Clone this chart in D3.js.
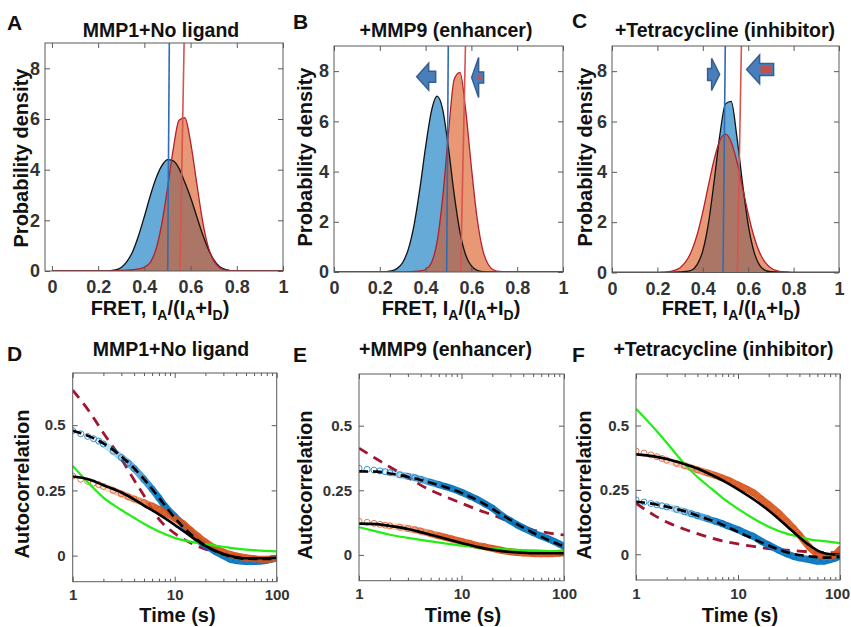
<!DOCTYPE html>
<html><head><meta charset="utf-8">
<script src="https://cdn.jsdelivr.net/npm/d3@7"></script>
<style>body{margin:0;background:#fff}svg{display:block}</style>
</head><body>
<svg id="chart" width="851" height="627"></svg>
<script>
// ---------------- DATA ----------------
// FRET histograms (probability density) sampled on fretX
const fretX = [0, 0.2, 0.225, 0.25, 0.275, 0.3, 0.325, 0.35, 0.375, 0.4, 0.425, 0.45, 0.475, 0.5, 0.525, 0.55, 0.575, 0.6, 0.625, 0.65, 0.675, 0.7, 0.725, 0.75, 0.775, 0.8, 0.825, 0.85, 1];
const densA_blue = [0, 0, 0, 0.01, 0.04, 0.14, 0.38, 0.78, 1.4, 2.15, 2.95, 3.65, 4.15, 4.4, 4.35, 4.05, 3.5, 2.9, 2.2, 1.5, 0.9, 0.45, 0.18, 0.06, 0.015, 0, 0, 0, 0];
const densA_red  = [0, 0, 0, 0, 0.01, 0.02, 0.03, 0.05, 0.08, 0.15, 0.33, 0.85, 1.84, 3.26, 4.81, 5.95, 6.05, 5.09, 3.57, 2.08, 1.0, 0.41, 0.14, 0.04, 0.015, 0.005, 0, 0, 0];
const densB_blue = [0, 0, 0.01, 0.04, 0.135, 0.38, 0.92, 1.89, 3.32, 4.98, 6.39, 7.0, 6.46, 4.92, 3.08, 1.59, 0.68, 0.24, 0.07, 0.015, 0, 0, 0, 0, 0, 0, 0, 0, 0];
const densB_red  = [0, 0, 0, 0, 0, 0.005, 0.01, 0.02, 0.04, 0.1, 0.36, 1.19, 2.99, 5.55, 7.68, 7.95, 6.45, 4.17, 2.14, 0.86, 0.28, 0.07, 0.02, 0.005, 0, 0, 0, 0, 0];
const densC_blue = [0, 0, 0.005, 0.005, 0.01, 0.02, 0.04, 0.09, 0.31, 0.86, 1.96, 3.63, 5.46, 6.7, 6.8, 5.4, 3.55, 1.9, 0.84, 0.29, 0.085, 0.03, 0.02, 0.015, 0.01, 0.005, 0, 0, 0];
const densC_red  = [0, 0, 0.01, 0.03, 0.08, 0.19, 0.43, 0.84, 1.5, 2.41, 3.47, 4.49, 5.24, 5.5, 5.19, 4.42, 3.38, 2.33, 1.44, 0.8, 0.4, 0.18, 0.07, 0.03, 0.01, 0, 0, 0, 0];
// reference FRET lines [x at bottom, x at top]
const refA_blue = [0.501, 0.508], refA_red = [0.554, 0.572];
const refB_blue = [0.492, 0.499], refB_red = [0.553, 0.574];
const refC_blue = [0.489, 0.499], refC_red = [0.552, 0.570];
const fretTicks = [0, 0.2, 0.4, 0.6, 0.8, 1];
const fretTickLabels = ["0", "0.2", "0.4", "0.6", "0.8", "1"];
const densTicks = [0, 2, 4, 6, 8];

// Autocorrelation curves
const timeData = [1, 1.2, 1.4, 1.6, 1.8, 2, 2.5, 3, 3.5, 4, 5, 6, 7, 8, 10, 12, 14, 17, 20, 25, 30, 35, 40, 50, 60, 70, 80, 90, 100];
const timeFit  = [1, 1.5, 2, 3, 4, 5, 7, 10, 15, 20, 30, 40, 50, 70, 100];
const D_blueData   = [0.479,0.467,0.457,0.448,0.439,0.428,0.40,0.376,0.355,0.334,0.292,0.255,0.221,0.19,0.15,0.12,0.093,0.06,0.04,0.016,0.0,-0.014,-0.019,-0.023,-0.023,-0.021,-0.018,-0.013,-0.01];
const D_orangeData = [0.305,0.293,0.285,0.278,0.272,0.265,0.25,0.237,0.226,0.217,0.203,0.19,0.177,0.164,0.143,0.123,0.1,0.073,0.052,0.028,0.014,0.005,-0.001,-0.008,-0.012,-0.014,-0.014,-0.012,-0.01];
const D_blueFit    = [0.479,0.455,0.43,0.38,0.335,0.293,0.222,0.145,0.075,0.038,0.005,-0.008,-0.012,-0.013,-0.013];
const D_orangeFit  = [0.303,0.29,0.27,0.242,0.216,0.192,0.158,0.118,0.069,0.037,0.006,-0.006,-0.01,-0.01,-0.008];
const D_redDash    = [0.634,0.545,0.47,0.37,0.29,0.23,0.14,0.085,0.045,0.025,0.008,0.0,-0.004,-0.007,-0.008];
const D_green      = [0.344,0.27,0.222,0.175,0.145,0.122,0.092,0.068,0.052,0.044,0.034,0.027,0.023,0.019,0.016];
const E_blueData   = [0.335,0.331,0.328,0.325,0.322,0.318,0.31,0.304,0.299,0.292,0.281,0.272,0.264,0.257,0.242,0.228,0.216,0.197,0.181,0.151,0.132,0.116,0.104,0.086,0.073,0.062,0.052,0.042,0.033];
const E_orangeData = [0.13,0.126,0.122,0.118,0.115,0.112,0.107,0.102,0.097,0.092,0.082,0.074,0.068,0.062,0.052,0.044,0.037,0.031,0.025,0.017,0.012,0.009,0.007,0.005,0.004,0.004,0.005,0.006,0.008];
const E_blueFit    = [0.323,0.322,0.315,0.302,0.29,0.279,0.262,0.24,0.207,0.178,0.135,0.105,0.085,0.058,0.032];
const E_orangeFit  = [0.121,0.119,0.112,0.1,0.088,0.078,0.062,0.046,0.029,0.02,0.011,0.008,0.006,0.006,0.006];
const E_redDash    = [0.413,0.37,0.34,0.3,0.27,0.25,0.225,0.2,0.172,0.155,0.126,0.107,0.096,0.085,0.077];
const E_green      = [0.107,0.09,0.078,0.066,0.058,0.052,0.044,0.036,0.028,0.024,0.02,0.018,0.017,0.015,0.014];
const F_blueData   = [0.211,0.203,0.197,0.192,0.188,0.184,0.174,0.165,0.157,0.15,0.138,0.128,0.119,0.11,0.095,0.081,0.07,0.05,0.036,0.016,0.002,-0.008,-0.014,-0.021,-0.027,-0.027,-0.021,-0.015,-0.008];
const F_orangeData = [0.401,0.393,0.386,0.379,0.372,0.365,0.353,0.344,0.335,0.328,0.316,0.306,0.296,0.287,0.269,0.254,0.24,0.214,0.192,0.16,0.128,0.1,0.075,0.028,0.0,-0.008,-0.009,0.0,0.018];
const F_blueFit    = [0.204,0.195,0.185,0.167,0.15,0.137,0.115,0.087,0.055,0.034,0.008,-0.003,-0.008,-0.013,-0.011];
const F_orangeFit  = [0.388,0.38,0.37,0.35,0.333,0.316,0.288,0.252,0.207,0.17,0.11,0.066,0.035,0.004,-0.002];
const F_redDash    = [0.198,0.152,0.125,0.097,0.08,0.068,0.052,0.04,0.029,0.022,0.016,0.012,0.01,0.007,0.005];
const F_green      = [0.565,0.49,0.433,0.35,0.3,0.268,0.22,0.176,0.133,0.107,0.08,0.068,0.058,0.051,0.043];
const timeTicks = [1, 10, 100];
const timeMinor = [2,3,4,5,6,7,8,9,20,30,40,50,60,70,80,90];
const acTicks = [0, 0.25, 0.5];
const acTickLabels = ["0", "0.25", "0.5"];

const titles = ["MMP1+No ligand", "+MMP9 (enhancer)", "+Tetracycline (inhibitor)"];
const letters = ["A", "B", "C", "D", "E", "F"];

// ---------------- LAYOUT ----------------
const FONT = "'Liberation Sans', Arial, Helvetica, sans-serif";
const AXC = "#5a5a5a", TXC = "#333";
const svg = d3.select("#chart");

const topPanels = [
  {box:[45,43,283,271], xd:[-0.03,1], blue:densA_blue, red:densA_red, rb:refA_blue, rr:refA_red,
   arrows:[], letter:[7,30], title:[161,37], ylab:[27.5,158], xlab:[160,315]},
  {box:[334,46,563,272], xd:[0,1], blue:densB_blue, red:densB_red, rb:refB_blue, rr:refB_red,
   arrows:[{x:0.361,y:7.78,dir:-1,L:19,hl:12,hh:27,bh:11,inner:null},
           {x:0.601,y:7.75,dir:-1,L:12,hl:7,hh:40,bh:11,inner:"dot"}],
   letter:[293,28.5], title:[446,37], ylab:[311.5,157], xlab:[451,315]},
  {box:[612,46,839,272.5], xd:[0,1], blue:densC_blue, red:densC_red, rb:refC_blue, rr:refC_red,
   arrows:[{x:0.474,y:7.87,dir:1,L:12,hl:8,hh:32,bh:12,inner:null},
           {x:0.593,y:8.07,dir:-1,L:27,hl:13,hh:29,bh:12,inner:"bar"}],
   letter:[572,28], title:[725,37], ylab:[591.5,157], xlab:[731,315]}
];
const botPanels = [
  {box:[72.7,373,276.7,581.7], bd:D_blueData, od:D_orangeData, bf:D_blueFit, of:D_orangeFit, rd:D_redDash, gr:D_green,
   letter:[7,360.5], title:[171,355.5], ylab:[28.5,484], xlab:[177.5,621.5]},
  {box:[359,374,564,580.7], bd:E_blueData, od:E_orangeData, bf:E_blueFit, of:E_orangeFit, rd:E_redDash, gr:E_green,
   letter:[293,361.5], title:[445.5,356], ylab:[312,485], xlab:[463,621.5]},
  {box:[636,374,840,580], bd:F_blueData, od:F_orangeData, bf:F_blueFit, of:F_orangeFit, rd:F_redDash, gr:F_green,
   letter:[572,361.5], title:[723.5,355.5], ylab:[590.5,485], xlab:[740,621.5]}
];

function txt(g, x, y, s, size, opts = {}) {
  return g.append("text").attr("x", x).attr("y", y).text(s)
    .attr("font-family", FONT).attr("font-weight", "bold").attr("font-size", size)
    .attr("fill", opts.fill || "#111").attr("text-anchor", opts.anchor || "start");
}
function styleAxis(sel, size) {
  sel.attr("font-family", FONT).attr("font-size", size).attr("font-weight", "bold").attr("color", AXC);
  sel.select(".domain").remove();
  sel.selectAll("text").attr("fill", TXC);
}
function frame(g, b) {
  g.append("rect").attr("x", b[0]).attr("y", b[1]).attr("width", b[2]-b[0]).attr("height", b[3]-b[1])
    .attr("fill", "none").attr("stroke", AXC).attr("stroke-width", 1);
}
function arrowPath(tx, ty, a) {
  const s = a.dir, hb = tx - s*a.hl, be = tx - s*a.L;
  return `M${tx},${ty}L${hb},${ty-a.hh/2}L${hb},${ty-a.bh/2}L${be},${ty-a.bh/2}L${be},${ty+a.bh/2}L${hb},${ty+a.bh/2}L${hb},${ty+a.hh/2}Z`;
}

// ---------------- TOP PANELS ----------------
topPanels.forEach((p, i) => {
  const g = svg.append("g");
  const [x0, y0, x1, y1] = p.box;
  const x = d3.scaleLinear().domain(p.xd).range([x0, x1]);
  const y = d3.scaleLinear().domain([0, 9]).range([y1, y0]);
  const cid = "clipT" + i;
  g.append("clipPath").attr("id", cid).append("rect").attr("x", x0).attr("y", y0).attr("width", x1-x0).attr("height", y1-y0);
  const pg = g.append("g").attr("clip-path", `url(#${cid})`);
  const area = d3.area().x((d, k) => x(fretX[k])).y0(y(0)).y1(d => y(d)).curve(d3.curveMonotoneX);
  const line = d3.line().x((d, k) => x(fretX[k])).y(d => y(d)).curve(d3.curveMonotoneX);
  pg.append("path").attr("d", area(p.blue)).attr("fill", "#0072BD").attr("fill-opacity", 0.6);
  pg.append("path").attr("d", area(p.red)).attr("fill", "#D95319").attr("fill-opacity", 0.6);
  pg.append("path").attr("d", line(p.blue)).attr("fill", "none").attr("stroke", "#111").attr("stroke-width", 1.3);
  pg.append("path").attr("d", line(p.red)).attr("fill", "none").attr("stroke", "#B5202E").attr("stroke-width", 1.3);
  pg.append("line").attr("x1", x(p.rb[0])).attr("y1", y(0)).attr("x2", x(p.rb[1])).attr("y2", y(9))
    .attr("stroke", "#2E6DB4").attr("stroke-width", 1.6);
  pg.append("line").attr("x1", x(p.rr[0])).attr("y1", y(0)).attr("x2", x(p.rr[1])).attr("y2", y(9))
    .attr("stroke", "#D9534F").attr("stroke-width", 1.6);
  p.arrows.forEach(a => {
    const tx = x(a.x), ty = y(a.y);
    pg.append("path").attr("d", arrowPath(tx, ty, a)).attr("fill", "#4A7EBB").attr("stroke", "#365F91").attr("stroke-width", 1.5);
    if (a.inner === "bar") {
      const hb = tx - a.dir*a.hl, be = tx - a.dir*a.L;
      pg.append("rect").attr("x", Math.min(hb, be) + 1).attr("y", ty - a.bh/2 + 2.5)
        .attr("width", Math.abs(be - hb) - 3).attr("height", a.bh - 5).attr("fill", "#C0504D");
    } else if (a.inner === "dot") {
      const hb = tx - a.dir*a.hl;
      pg.append("rect").attr("x", hb - 1).attr("y", ty - 2.5).attr("width", 3.5).attr("height", 5).attr("fill", "#C0504D");
    }
  });
  // axes (inward ticks on all four sides)
  const ax = g.append("g").attr("transform", `translate(0,${y1})`)
    .call(d3.axisBottom(x).tickValues(fretTicks).tickFormat((d, k) => fretTickLabels[k]).tickSize(-5).tickPadding(9.5));
  styleAxis(ax, 18);
  const axT = g.append("g").attr("transform", `translate(0,${y0})`)
    .call(d3.axisTop(x).tickValues(fretTicks).tickFormat("").tickSize(-5));
  styleAxis(axT, 18);
  const ay = g.append("g").attr("transform", `translate(${x0},0)`)
    .call(d3.axisLeft(y).tickValues(densTicks).tickFormat(d3.format("d")).tickSize(-5).tickPadding(5));
  styleAxis(ay, 18);
  const ayR = g.append("g").attr("transform", `translate(${x1},0)`)
    .call(d3.axisRight(y).tickValues(densTicks).tickFormat("").tickSize(-5));
  styleAxis(ayR, 18);
  frame(g, p.box);
  // texts
  txt(g, p.letter[0], p.letter[1], letters[i], 21);
  txt(g, p.title[0], p.title[1], titles[i], 19.5, {anchor: "middle"});
  txt(g, 0, 0, "Probability density", 20, {anchor: "middle"})
    .attr("transform", `translate(${p.ylab[0]},${p.ylab[1]}) rotate(-90)`).attr("x", null).attr("y", null);
  const xl = g.append("text").attr("x", p.xlab[0]).attr("y", p.xlab[1]).attr("text-anchor", "middle")
    .attr("font-family", FONT).attr("font-weight", "bold").attr("font-size", 20).attr("fill", "#111");
  const parts = [["FRET, I", 0], ["A", 1], ["/(I", 0], ["A", 1], ["+I", 0], ["D", 1], [")", 0]];
  let prevSub = 0;
  parts.forEach(([s, sub]) => {
    const dy = sub ? 5 : (prevSub ? -5 : 0);
    xl.append("tspan").text(s).attr("dy", dy).attr("font-size", sub ? 14 : 20);
    prevSub = sub;
  });
});

// ---------------- BOTTOM PANELS ----------------
botPanels.forEach((p, i) => {
  const g = svg.append("g");
  const [x0, y0, x1, y1] = p.box;
  const x = d3.scaleLog().domain([1, 100]).range([x0, x1]);
  const y = d3.scaleLinear().domain([-0.1, 0.7]).range([y1, y0]);
  const cid = "clipB" + i;
  g.append("clipPath").attr("id", cid).append("rect").attr("x", x0).attr("y", y0).attr("width", x1-x0).attr("height", y1-y0);
  const pg = g.append("g").attr("clip-path", `url(#${cid})`);
  const lineD = d3.line().x((d, k) => x(timeData[k])).y(d => y(d)).curve(d3.curveMonotoneX);
  const lineF = d3.line().x((d, k) => x(timeFit[k])).y(d => y(d)).curve(d3.curveMonotoneX);
  // red dashed (single exponential model)
  pg.append("path").attr("d", lineF(p.rd)).attr("fill", "none").attr("stroke", "#A2142F")
    .attr("stroke-width", 2.8).attr("stroke-dasharray", "10,7");
  // data: band + open circles, denser appearance at longer times
  [["b", p.bd, "#0072BD"], ["o", p.od, "#D95319"]].forEach(([k, arr, col]) => {
    const gid = `grad${k}${i}`;
    const gr = g.append("linearGradient").attr("id", gid).attr("gradientUnits", "userSpaceOnUse")
      .attr("x1", x(1.5)).attr("x2", x(7)).attr("y1", 0).attr("y2", 0);
    gr.append("stop").attr("offset", 0).attr("stop-color", col).attr("stop-opacity", 0);
    gr.append("stop").attr("offset", 1).attr("stop-color", col).attr("stop-opacity", 0.9);
    pg.append("path").attr("d", lineD(arr)).attr("fill", "none").attr("stroke", `url(#${gid})`)
      .attr("stroke-width", 7).attr("stroke-linecap", "round");
    pg.append("g").selectAll("circle").data(arr).join("circle")
      .attr("cx", (d, j) => x(timeData[j])).attr("cy", d => y(d)).attr("r", 3)
      .attr("fill", "none").attr("stroke", col).attr("stroke-width", 1).attr("stroke-opacity", 0.75);
  });
  pg.append("path").attr("d", lineF(p.gr)).attr("fill", "none").attr("stroke", "#22EE11").attr("stroke-width", 2.2);
  pg.append("path").attr("d", lineF(p.of)).attr("fill", "none").attr("stroke", "#000").attr("stroke-width", 2.6);
  pg.append("path").attr("d", lineF(p.bf)).attr("fill", "none").attr("stroke", "#000").attr("stroke-width", 2.6)
    .attr("stroke-dasharray", "9,5");
  // axes
  const ax = g.append("g").attr("transform", `translate(0,${y1})`)
    .call(d3.axisBottom(x).tickValues(timeTicks).tickFormat(d3.format("d")).tickSize(-5).tickPadding(8));
  styleAxis(ax, 15);
  // keep the last label inside the page
  ax.selectAll("text").filter(d => d === 100 && x1 > 830).attr("dx", -3);
  const axm = g.append("g").attr("transform", `translate(0,${y1})`)
    .call(d3.axisBottom(x).tickValues(timeMinor).tickFormat("").tickSize(-3));
  styleAxis(axm, 15);
  const axT = g.append("g").attr("transform", `translate(0,${y0})`)
    .call(d3.axisTop(x).tickValues(timeTicks).tickFormat("").tickSize(-5));
  styleAxis(axT, 15);
  const axTm = g.append("g").attr("transform", `translate(0,${y0})`)
    .call(d3.axisTop(x).tickValues(timeMinor).tickFormat("").tickSize(-3));
  styleAxis(axTm, 15);
  const ay = g.append("g").attr("transform", `translate(${x0},0)`)
    .call(d3.axisLeft(y).tickValues(acTicks).tickFormat((d, k) => acTickLabels[k]).tickSize(-5).tickPadding(7));
  styleAxis(ay, 15);
  const ayR = g.append("g").attr("transform", `translate(${x1},0)`)
    .call(d3.axisRight(y).tickValues(acTicks).tickFormat("").tickSize(-5));
  styleAxis(ayR, 15);
  frame(g, p.box);
  txt(g, p.letter[0], p.letter[1], letters[i + 3], 21);
  txt(g, p.title[0], p.title[1], titles[i], 19.5, {anchor: "middle"});
  txt(g, 0, 0, "Autocorrelation", 20, {anchor: "middle"})
    .attr("transform", `translate(${p.ylab[0]},${p.ylab[1]}) rotate(-90)`).attr("x", null).attr("y", null);
  txt(g, p.xlab[0], p.xlab[1], "Time (s)", 20, {anchor: "middle"});
});
</script>
</body></html>
